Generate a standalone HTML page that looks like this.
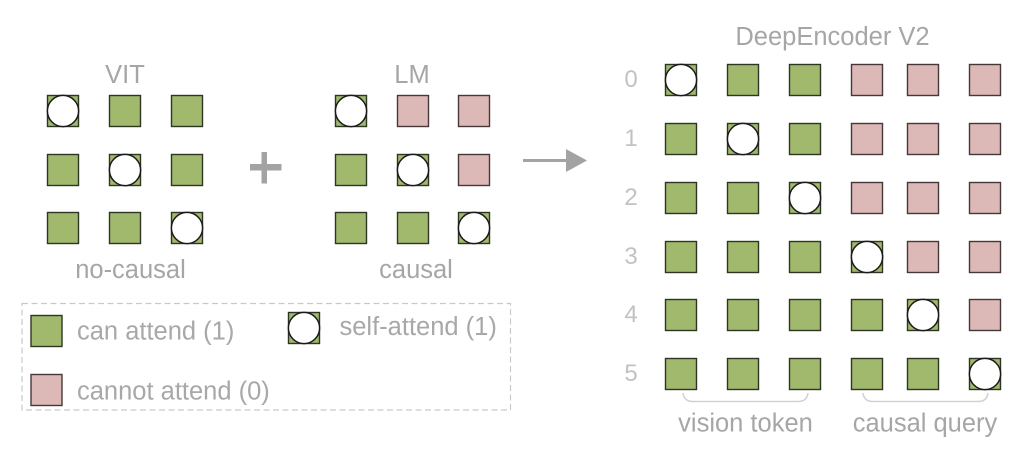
<!DOCTYPE html>
<html>
<head>
<meta charset="utf-8">
<style>
  html,body{margin:0;padding:0;background:#fff;}
  svg{display:block;}
  text{font-family:"Liberation Sans",Arial,sans-serif;}
</style>
</head>
<body>
<svg width="1024" height="453" viewBox="0 0 1024 453" xmlns="http://www.w3.org/2000/svg">
  <defs>
    <g id="g"><rect x="0.5" y="0.5" width="31" height="31" fill="#a1b96c" stroke="#2e3623" stroke-width="1.4"/></g>
    <g id="p"><rect x="0.5" y="0.5" width="31" height="31" fill="#dcb9b7" stroke="#463838" stroke-width="1.4"/></g>
    <g id="s"><rect x="0.5" y="0.5" width="31" height="31" fill="#a1b96c" stroke="#2e3623" stroke-width="1.4"/><circle cx="16" cy="16" r="15.6" fill="#fff" stroke="#1a1a1a" stroke-width="1.5"/></g>
  </defs>

  <!-- VIT -->
  <text x="125" y="83" font-size="25.5" fill="#a6a6a6" text-anchor="middle">VIT</text>
  <use href="#s" x="47" y="95"/><use href="#g" x="109" y="95"/><use href="#g" x="171" y="95"/>
  <use href="#g" x="47" y="154"/><use href="#s" x="109" y="154"/><use href="#g" x="171" y="154"/>
  <use href="#g" x="47" y="212"/><use href="#g" x="109" y="212"/><use href="#s" x="171" y="212"/>
  <text x="130.5" y="278" font-size="25.5" fill="#a6a6a6" text-anchor="middle">no-causal</text>

  <!-- plus -->
  <rect x="250" y="164" width="31.5" height="6.5" fill="#a3a3a3"/>
  <rect x="261.5" y="152" width="5.5" height="31.5" fill="#a3a3a3"/>

  <!-- LM -->
  <text x="412" y="83" font-size="25.5" fill="#a6a6a6" text-anchor="middle">LM</text>
  <use href="#s" x="335" y="95"/><use href="#p" x="397" y="95"/><use href="#p" x="458" y="95"/>
  <use href="#g" x="335" y="154"/><use href="#s" x="397" y="154"/><use href="#p" x="458" y="154"/>
  <use href="#g" x="335" y="212"/><use href="#g" x="397" y="212"/><use href="#s" x="458" y="212"/>
  <text x="416" y="278" font-size="25.5" fill="#a6a6a6" text-anchor="middle">causal</text>

  <!-- arrow -->
  <line x1="523" y1="160.5" x2="568" y2="160.5" stroke="#a3a3a3" stroke-width="3"/>
  <polygon points="566,149 587,160.5 566,172" fill="#a3a3a3"/>

  <!-- legend -->
  <rect x="22" y="303.5" width="488.5" height="106.5" fill="none" stroke="#c9c9c9" stroke-width="1.2" stroke-dasharray="6,3.5"/>
  <use href="#g" x="30.5" y="315"/>
  <text x="77" y="339.5" font-size="25.5" fill="#a8a8a8">can attend (1)</text>
  <use href="#s" x="288" y="312"/>
  <text x="339.5" y="335" font-size="25.5" fill="#a8a8a8">self-attend (1)</text>
  <use href="#p" x="30.5" y="374"/>
  <text x="77" y="399.5" font-size="25.5" fill="#a8a8a8">cannot attend (0)</text>

  <!-- DeepEncoder V2 -->
  <text x="832.5" y="45" font-size="25.5" fill="#a6a6a6" text-anchor="middle">DeepEncoder V2</text>

  <g font-size="24" fill="#c2c2c2" text-anchor="middle">
    <text x="631" y="87">0</text>
    <text x="631" y="146">1</text>
    <text x="631" y="205">2</text>
    <text x="631" y="264">3</text>
    <text x="631" y="322">4</text>
    <text x="631" y="381">5</text>
  </g>

  <!-- row 0 -->
  <use href="#s" x="665" y="64"/><use href="#g" x="727" y="64"/><use href="#g" x="789" y="64"/>
  <use href="#p" x="851" y="64"/><use href="#p" x="907" y="64"/><use href="#p" x="969" y="64"/>
  <!-- row 1 -->
  <use href="#g" x="665" y="123"/><use href="#s" x="727" y="123"/><use href="#g" x="789" y="123"/>
  <use href="#p" x="851" y="123"/><use href="#p" x="907" y="123"/><use href="#p" x="969" y="123"/>
  <!-- row 2 -->
  <use href="#g" x="665" y="182"/><use href="#g" x="727" y="182"/><use href="#s" x="789" y="182"/>
  <use href="#p" x="851" y="182"/><use href="#p" x="907" y="182"/><use href="#p" x="969" y="182"/>
  <!-- row 3 -->
  <use href="#g" x="665" y="241"/><use href="#g" x="727" y="241"/><use href="#g" x="789" y="241"/>
  <use href="#s" x="851" y="241"/><use href="#p" x="907" y="241"/><use href="#p" x="969" y="241"/>
  <!-- row 4 -->
  <use href="#g" x="665" y="299"/><use href="#g" x="727" y="299"/><use href="#g" x="789" y="299"/>
  <use href="#g" x="851" y="299"/><use href="#s" x="907" y="299"/><use href="#p" x="969" y="299"/>
  <!-- row 5 -->
  <use href="#g" x="665" y="358"/><use href="#g" x="727" y="358"/><use href="#g" x="789" y="358"/>
  <use href="#g" x="851" y="358"/><use href="#g" x="907" y="358"/><use href="#s" x="969" y="358"/>

  <!-- brackets -->
  <path d="M683,393 Q684,401.5 693,401.5 L798,401.5 Q807,401.5 808,393" fill="none" stroke="#d2d2d2" stroke-width="1.5"/>
  <path d="M863,393 Q864,401.5 873,401.5 L978,401.5 Q987,401.5 988,393" fill="none" stroke="#d2d2d2" stroke-width="1.5"/>

  <text x="745.5" y="431.5" font-size="25.5" fill="#a6a6a6" text-anchor="middle">vision token</text>
  <text x="925" y="431.5" font-size="25.5" fill="#a6a6a6" text-anchor="middle">causal query</text>
</svg>
</body>
</html>
